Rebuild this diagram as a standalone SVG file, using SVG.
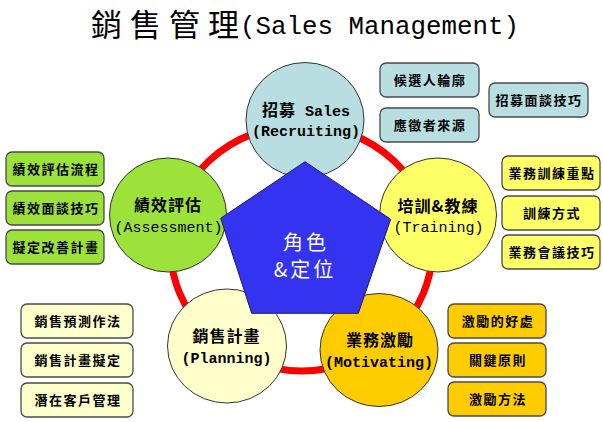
<svg xmlns="http://www.w3.org/2000/svg" width="603" height="422" viewBox="0 0 603 422">
<style>
.bg{fill:#ffffff}
.ring{fill:none;stroke:#ff0000;stroke-width:7}
.node{stroke:#333333;stroke-width:1}
.box{stroke:#4a4a4a;stroke-width:1.3}
.bt{font-family:"Noto Sans CJK TC","Noto Sans CJK SC",sans-serif;font-size:13px;font-weight:bold;letter-spacing:1.5px;text-anchor:middle;fill:#000}
.cz{font-family:"Noto Sans CJK TC","Noto Sans CJK SC",sans-serif;font-size:16px;font-weight:bold;letter-spacing:1px;text-anchor:middle;fill:#000}
.lt{font-family:"Liberation Mono","Noto Sans CJK TC",monospace;font-size:15px;text-anchor:middle;fill:#000}
.b{font-weight:bold}
.blue{fill:#b8dee2}.green{fill:#9de23a}.yellow{fill:#ffff66}.cream{fill:#ffffcc}.gold{fill:#ffcc00}
</style>
<rect class="bg" x="0" y="0" width="603" height="422"/>
<g id="title">
<text x="91" y="36" font-family="Noto Sans CJK TC, sans-serif" font-size="31" textLength="148" lengthAdjust="spacing" fill="#000">銷售管理</text>
<text x="240" y="34" font-family="Liberation Mono, monospace" font-size="25" textLength="279" lengthAdjust="spacingAndGlyphs" fill="#000">(Sales Management)</text>
</g>
<g id="connectors">
<ellipse class="ring" cx="301.5" cy="248" rx="131" ry="123"/>
</g>
<g id="recruiting">
<ellipse class="node blue" cx="305" cy="120" rx="59" ry="57.5"/>
<text class="cz" x="306" y="116"><tspan>招募</tspan><tspan class="b" font-family="Liberation Mono, monospace" font-size="15" letter-spacing="0"> Sales</tspan></text>
<text class="lt b" x="306" y="135.5">(Recruiting)</text>
</g>
<g id="assessment">
<ellipse class="node green" cx="168" cy="215" rx="58.5" ry="57"/>
<text class="cz" x="168" y="211">績效評估</text>
<text class="lt" x="168.5" y="231.5">(Assessment)</text>
</g>
<g id="training">
<ellipse class="node yellow" cx="438" cy="215" rx="58.5" ry="57"/>
<text class="cz" x="438" y="212">培訓&amp;教練</text>
<text class="lt" x="438.5" y="231.5">(Training)</text>
</g>
<g id="planning">
<ellipse class="node cream" cx="227" cy="346" rx="59.5" ry="57"/>
<text class="cz" x="226.5" y="342">銷售計畫</text>
<text class="lt b" x="226.5" y="362.5">(Planning)</text>
</g>
<g id="motivating">
<ellipse class="node gold" cx="379" cy="350" rx="59" ry="56.5"/>
<text class="cz" x="380" y="346">業務激勵</text>
<text class="lt b" x="379" y="367">(Motivating)</text>
</g>
<g id="center">
<polygon points="305,161.7 390.7,219.3 358.3,313.3 251.7,313.3 220.7,218.3" fill="#3434f0" stroke="#1a1a66" stroke-width="1"/>
<text x="306" y="250" font-family="Noto Sans CJK TC, sans-serif" font-size="20" letter-spacing="3" text-anchor="middle" fill="#ffffff">角色</text>
<text x="305" y="277" font-family="Noto Sans CJK TC, sans-serif" font-size="20" letter-spacing="3" text-anchor="middle" fill="#ffffff">&amp;定位</text>
</g>
<g id="recruiting-items">
<rect class="box blue" x="380" y="63" width="99" height="34" rx="6"/>
<text class="bt" x="430" y="85">候選人輪廓</text>
<rect class="box blue" x="380" y="108" width="99" height="34" rx="6"/>
<text class="bt" x="430" y="130">應徵者來源</text>
<rect class="box blue" x="489" y="83" width="99" height="34" rx="6"/>
<text class="bt" x="539" y="105">招募面談技巧</text>
</g>
<g id="assessment-items">
<rect class="box green" x="6" y="152" width="98" height="34" rx="6"/>
<text class="bt" x="56" y="174">績效評估流程</text>
<rect class="box green" x="6" y="191" width="98" height="34" rx="6"/>
<text class="bt" x="56" y="213">績效面談技巧</text>
<rect class="box green" x="6" y="230" width="98" height="34" rx="6"/>
<text class="bt" x="56" y="252">擬定改善計畫</text>
</g>
<g id="training-items">
<rect class="box yellow" x="502" y="156" width="98" height="34" rx="6"/>
<text class="bt" x="552" y="178">業務訓練重點</text>
<rect class="box yellow" x="502" y="196" width="98" height="34" rx="6"/>
<text class="bt" x="552" y="218">訓練方式</text>
<rect class="box yellow" x="502" y="235" width="98" height="34" rx="6"/>
<text class="bt" x="552" y="257">業務會議技巧</text>
</g>
<g id="planning-items">
<rect class="box cream" x="21" y="304" width="112" height="34" rx="6"/>
<text class="bt" x="78" y="326">銷售預測作法</text>
<rect class="box cream" x="21" y="343" width="112" height="34" rx="6"/>
<text class="bt" x="78" y="365">銷售計畫擬定</text>
<rect class="box cream" x="21" y="383" width="112" height="34" rx="6"/>
<text class="bt" x="78" y="405">潛在客戶管理</text>
</g>
<g id="motivating-items">
<rect class="box gold" x="448" y="304" width="98" height="34" rx="6"/>
<text class="bt" x="498" y="326">激勵的好處</text>
<rect class="box gold" x="448" y="343" width="98" height="34" rx="6"/>
<text class="bt" x="498" y="365">關鍵原則</text>
<rect class="box gold" x="448" y="382" width="98" height="34" rx="6"/>
<text class="bt" x="498" y="404">激勵方法</text>
</g>
</svg>
